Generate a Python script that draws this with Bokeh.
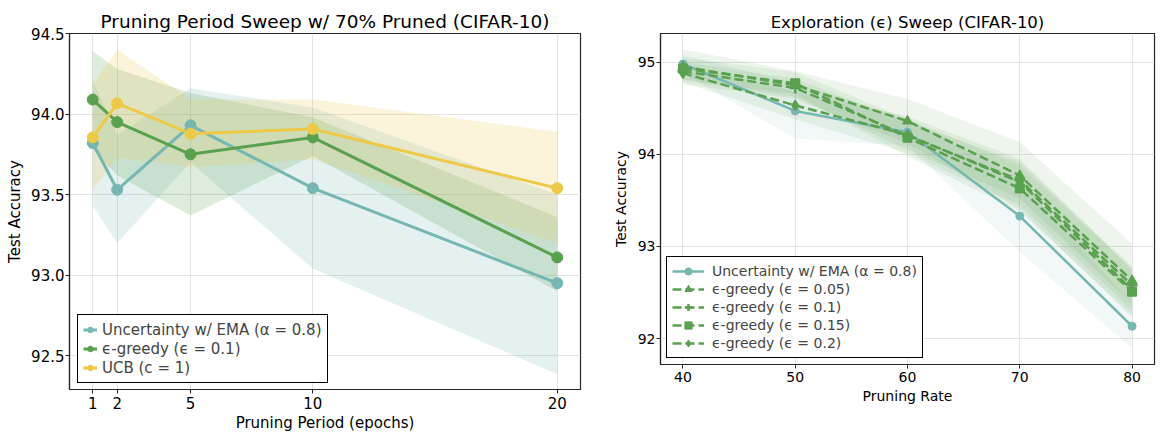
from bokeh.plotting import figure
from bokeh.layouts import row
from bokeh.models import Range1d, FixedTicker, Legend, LegendItem, NumeralTickFormatter
from bokeh.embed import file_html
from bokeh.resources import INLINE

# ---------------- Left panel data ----------------
periods = [1, 2, 5, 10, 20]
unc_mean = [93.82, 93.53, 93.93, 93.54, 92.95]
unc_lo = [93.43, 93.20, 93.70, 93.04, 92.385]
unc_hi = [94.21, 93.87, 94.16, 94.04, 93.50]
eg_mean = [94.09, 93.95, 93.75, 93.855, 93.11]
eg_lo = [93.78, 93.62, 93.37, 93.74, 92.90]
eg_hi = [94.39, 94.28, 94.13, 93.98, 93.36]
ucb_mean = [93.855, 94.066, 93.878, 93.907, 93.54]
ucb_lo = [93.53, 93.73, 93.67, 93.72, 93.20]
ucb_hi = [94.18, 94.40, 94.09, 94.09, 93.89]
left_labels = ["Uncertainty w/ EMA (α = 0.8)", "ϵ-greedy (ϵ = 0.1)", "UCB (c = 1)"]

# ---------------- Right panel data ----------------
rates = [40, 50, 60, 70, 80]
unc_r = [94.98, 94.47, 94.24, 93.33, 92.135]
unc_r_std = [0.10, 0.30, 0.15, 0.39, 0.24]
e05 = [94.95, 94.75, 94.36, 93.77, 92.63]
e05_std = [0.19, 0.15, 0.24, 0.36, 0.40]
e10 = [94.90, 94.72, 94.20, 93.72, 92.58]
e10_std = [0.10, 0.10, 0.15, 0.20, 0.20]
e15 = [94.93, 94.77, 94.18, 93.63, 92.51]
e15_std = [0.12, 0.12, 0.20, 0.25, 0.25]
e20 = [94.88, 94.53, 94.21, 93.70, 92.53]
e20_std = [0.10, 0.15, 0.20, 0.25, 0.22]
right_labels = ["Uncertainty w/ EMA (α = 0.8)", "ϵ-greedy (ϵ = 0.05)", "ϵ-greedy (ϵ = 0.1)",
                "ϵ-greedy (ϵ = 0.15)", "ϵ-greedy (ϵ = 0.2)"]

TEAL = "#76b7b2"
GREEN = "#59a14f"
YELLOW = "#edc948"
FONT = "DejaVu Sans"
SPINE = "#262626"


def style(p, tick_px, title_px):
    p.title.text_font = FONT
    p.title.text_font_size = title_px
    p.title.text_font_style = "normal"
    p.title.align = "center"
    p.title.text_color = "#000000"
    p.title.standoff = 4
    p.outline_line_color = SPINE
    p.outline_line_width = 1.2
    p.outline_line_alpha = 1
    for ax in (p.xaxis[0], p.yaxis[0]):
        ax.axis_line_color = SPINE
        ax.axis_line_width = 1.2
        ax.major_tick_line_color = SPINE
        ax.major_tick_out = 4
        ax.major_tick_in = 0
        ax.minor_tick_line_color = None
        ax.major_label_standoff = 3
        ax.major_label_text_font = FONT
        ax.major_label_text_font_size = tick_px
        ax.major_label_text_color = "#000000"
        ax.axis_label_text_font = FONT
        ax.axis_label_text_font_size = tick_px
        ax.axis_label_text_font_style = "normal"
        ax.axis_label_text_color = "#000000"
    p.yaxis.major_label_standoff = 1
    p.grid.grid_line_color = "#e3e3e3"
    p.grid.grid_line_width = 1
    p.background_fill_color = "white"
    p.border_fill_color = "white"


# ---------------- Left figure ----------------
p1 = figure(width=600, height=434, x_range=Range1d(0.05, 20.95), y_range=Range1d(92.29, 94.5),
            output_backend="svg", toolbar_location=None,
            title="Pruning Period Sweep w/ 70% Pruned (CIFAR-10)",
            min_border_left=69, min_border_right=20, min_border_top=33, min_border_bottom=45)
style(p1, "15px", "18.5px")
p1.xaxis.ticker = FixedTicker(ticks=periods)
p1.yaxis.ticker = FixedTicker(ticks=[92.5, 93.0, 93.5, 94.0, 94.5])
p1.yaxis.formatter = NumeralTickFormatter(format="0.0")
p1.xaxis.axis_label = "Pruning Period (epochs)"
p1.yaxis.axis_label = "Test Accuracy"
p1.yaxis.axis_label_standoff = 4
p1.xaxis.axis_label_standoff = 2

items1 = []
for lo, hi, col in [(unc_lo, unc_hi, TEAL), (eg_lo, eg_hi, GREEN), (ucb_lo, ucb_hi, YELLOW)]:
    p1.varea(x=periods, y1=lo, y2=hi, fill_color=col, fill_alpha=0.2)
for mean, col, lab in [(unc_mean, TEAL, left_labels[0]),
                       (eg_mean, GREEN, left_labels[1]),
                       (ucb_mean, YELLOW, left_labels[2])]:
    lr = p1.line(periods, mean, line_color=col, line_width=3)
    sr = p1.scatter(periods, mean, marker="circle", size=11, fill_color=col, line_color=col)
    items1.append(LegendItem(label=lab, renderers=[lr, sr]))

leg1 = Legend(items=items1, location=(8, 6), border_line_color="black", border_line_width=1.2,
              border_line_alpha=1, background_fill_alpha=1, label_text_font=FONT,
              label_text_font_size="15px", glyph_width=14, glyph_height=19, label_height=19,
              spacing=0, padding=5, margin=0, label_standoff=5)
p1.add_layout(leg1, "center")

# ---------------- Right figure ----------------
p2 = figure(width=568, height=409, x_range=Range1d(38, 82), y_range=Range1d(91.72, 95.31),
            output_backend="svg", toolbar_location=None,
            title="Exploration (ϵ) Sweep (CIFAR-10)",
            min_border_left=60, min_border_right=14, min_border_top=30, min_border_bottom=45)
style(p2, "14px", "16.5px")
p2.xaxis.ticker = FixedTicker(ticks=rates)
p2.yaxis.ticker = FixedTicker(ticks=[92, 93, 94, 95])
p2.xaxis.axis_label = "Pruning Rate"
p2.yaxis.axis_label = "Test Accuracy"
p2.yaxis.axis_label_standoff = 6
p2.xaxis.axis_label_standoff = 3

series = [(unc_r, unc_r_std, TEAL), (e05, e05_std, GREEN), (e10, e10_std, GREEN),
          (e15, e15_std, GREEN), (e20, e20_std, GREEN)]
for mean, sd, col in series:
    p2.varea(x=rates, y1=[m - s for m, s in zip(mean, sd)], y2=[m + s for m, s in zip(mean, sd)],
             fill_color=col, fill_alpha=0.1)

items2 = []
lr = p2.line(rates, unc_r, line_color=TEAL, line_width=2.5)
sr = p2.scatter(rates, unc_r, marker="circle", size=8, fill_color=TEAL, line_color=TEAL)
items2.append(LegendItem(label=right_labels[0], renderers=[lr, sr]))
markers = [("triangle", 10), ("cross", 11), ("square", 9), ("diamond", 11)]
for (mean, sd, col), (mk, sz), lab in zip(series[1:], markers, right_labels[1:]):
    lr = p2.line(rates, mean, line_color=col, line_width=2.5, line_dash="9 4")
    sr = p2.scatter(rates, mean, marker=mk, size=sz, fill_color=col, line_color=col,
                    line_width=2.5 if mk == "cross" else 1)
    items2.append(LegendItem(label=lab, renderers=[lr, sr]))

leg2 = Legend(items=items2, location=(6, 6), border_line_color="black", border_line_width=1.2,
              border_line_alpha=1, background_fill_alpha=1, label_text_font=FONT,
              label_text_font_size="14px", glyph_width=32, glyph_height=18, label_height=18,
              spacing=0, padding=5, margin=0, label_standoff=8)
p2.add_layout(leg2, "center")

layout = row(p1, p2)
open("out.html", "w").write(file_html(layout, INLINE))
